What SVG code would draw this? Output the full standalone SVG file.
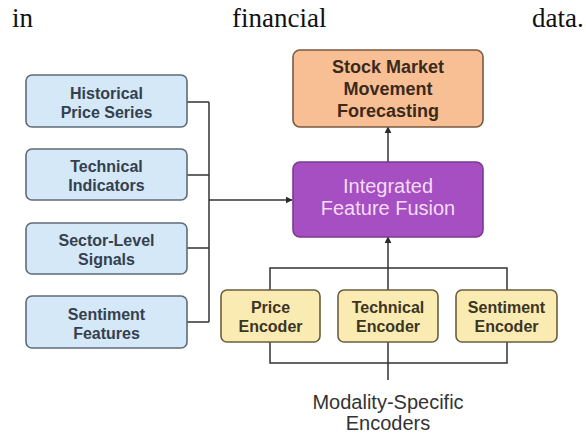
<svg xmlns="http://www.w3.org/2000/svg" width="586" height="435" viewBox="0 0 586 435">
<defs>
<marker id="ah" viewBox="0 0 10 10" refX="9" refY="5" markerWidth="7" markerHeight="7" orient="auto" markerUnits="userSpaceOnUse">
<path d="M0,0 L10,5 L0,10 z" fill="#2b2b2b"/>
</marker>
<style>
.hdr{font-family:"Liberation Serif","Times New Roman",serif;font-size:27px;fill:#111}
.box{stroke-width:1.6}
.in{fill:#d5e8f7;stroke:#5d6b78}
.enc{fill:#f9ebb2;stroke:#6b5e3e}
.out{fill:#f8bf94;stroke:#7a5a42}
.fus{fill:#a54fc2;stroke:#7b3a92}
.t{font-family:"Liberation Sans",Arial,sans-serif;font-size:16px;font-weight:bold;text-anchor:middle}
.tb{fill:#34404e}
.te{fill:#3d3524}
.to{fill:#3b2a1c;font-size:18px}
.tf{fill:#f4dcf7;font-size:20px;font-weight:normal}
.lab{font-family:"Liberation Sans",Arial,sans-serif;font-size:20px;fill:#333;text-anchor:middle}
.ln{fill:none;stroke:#333;stroke-width:1.5}
</style>
</defs>
<rect width="586" height="435" fill="#fff"/>
<text class="hdr" x="12" y="27">in</text>
<text class="hdr" x="232" y="27">financial</text>
<text class="hdr" x="532" y="27">data.</text>

<g id="connectors">
<path class="ln" d="M187,102 H209 M187,175 H209 M187,248 H209 M187,322 H209 M209,102 V322"/>
<path class="ln" d="M209,200 H292" marker-end="url(#ah)"/>
<path class="ln" d="M388,162 V127" marker-end="url(#ah)"/>
<path class="ln" d="M270,290 V268 H507 V290 M388,268 V290"/>
<path class="ln" d="M388,268 V237" marker-end="url(#ah)"/>
<path class="ln" d="M270,342 V363 H507 V342 M388,342 V380"/>
</g>

<g id="n-hist"><rect class="box in" x="26" y="75" width="161" height="52" rx="6"/>
<text class="t tb" x="106.5" y="98.5">Historical</text><text class="t tb" x="106.5" y="117.5">Price Series</text></g>
<g id="n-tech"><rect class="box in" x="26" y="149" width="161" height="51" rx="6"/>
<text class="t tb" x="106.5" y="172">Technical</text><text class="t tb" x="106.5" y="191">Indicators</text></g>
<g id="n-sector"><rect class="box in" x="26" y="223" width="161" height="51" rx="6"/>
<text class="t tb" x="106.5" y="246">Sector-Level</text><text class="t tb" x="106.5" y="265">Signals</text></g>
<g id="n-sent"><rect class="box in" x="26" y="296" width="161" height="52" rx="6"/>
<text class="t tb" x="106.5" y="319.5">Sentiment</text><text class="t tb" x="106.5" y="338.5">Features</text></g>

<g id="n-forecast"><rect class="box out" x="293" y="50" width="190" height="77" rx="7"/>
<text class="t to" x="388" y="73">Stock Market</text><text class="t to" x="388" y="95">Movement</text><text class="t to" x="388" y="117">Forecasting</text></g>
<g id="n-fusion"><rect class="box fus" x="293" y="162" width="190" height="75" rx="7"/>
<text class="t tf" x="388" y="193">Integrated</text><text class="t tf" x="388" y="215">Feature Fusion</text></g>

<g id="n-price"><rect class="box enc" x="221" y="290" width="99" height="52" rx="6"/>
<text class="t te" x="270.5" y="312.5">Price</text><text class="t te" x="270.5" y="332">Encoder</text></g>
<g id="n-techenc"><rect class="box enc" x="338" y="290" width="100" height="52" rx="6"/>
<text class="t te" x="388" y="312.5">Technical</text><text class="t te" x="388" y="332">Encoder</text></g>
<g id="n-sentenc"><rect class="box enc" x="456" y="290" width="101" height="52" rx="6"/>
<text class="t te" x="506.5" y="312.5">Sentiment</text><text class="t te" x="506.5" y="332">Encoder</text></g>

<g id="n-label"><text class="lab" x="388" y="408.5">Modality-Specific</text><text class="lab" x="388" y="430">Encoders</text></g>
</svg>
